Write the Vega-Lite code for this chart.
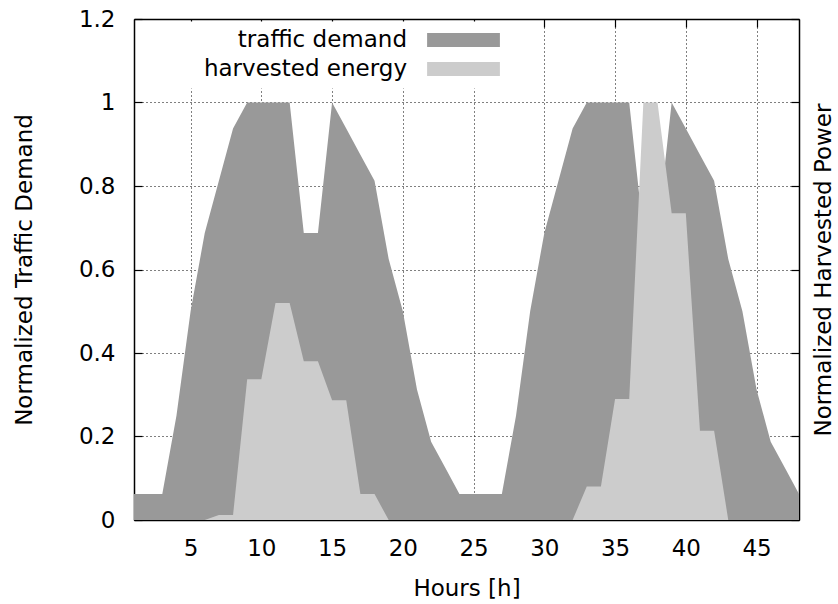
{
  "$schema": "https://vega.github.io/schema/vega-lite/v6.json",
  "width": 665,
  "height": 501,
  "autosize": "none",
  "padding": {"left": 134, "top": 19, "right": 39, "bottom": 84},
  "background": "white",
  "config": {
    "font": "DejaVu Sans",
    "view": {"stroke": null},
    "axis": {
      "domainColor": "black",
      "domainWidth": 1.5,
      "tickColor": "black",
      "tickWidth": 1.2,
      "tickSize": -8,
      "labelFont": "DejaVu Sans",
      "labelFontSize": 23,
      "labelColor": "black",
      "labelFlush": false,
      "labelOverlap": false,
      "titleFont": "DejaVu Sans",
      "titleFontSize": 23,
      "titleFontWeight": "normal",
      "titleColor": "black",
      "gridColor": "black",
      "gridDash": [1, 3],
      "gridWidth": 1,
      "gridOpacity": 1
    }
  },
  "data": {
    "values": [
      {"h": 1, "traffic": 0.0625, "harvested": 0},
      {"h": 2, "traffic": 0.0625, "harvested": 0},
      {"h": 3, "traffic": 0.0625, "harvested": 0},
      {"h": 4, "traffic": 0.25, "harvested": 0},
      {"h": 5, "traffic": 0.5, "harvested": 0},
      {"h": 6, "traffic": 0.6875, "harvested": 0},
      {"h": 7, "traffic": 0.8125, "harvested": 0.012},
      {"h": 8, "traffic": 0.9375, "harvested": 0.012},
      {"h": 9, "traffic": 1, "harvested": 0.337},
      {"h": 10, "traffic": 1, "harvested": 0.337},
      {"h": 11, "traffic": 1, "harvested": 0.52},
      {"h": 12, "traffic": 1, "harvested": 0.52},
      {"h": 13, "traffic": 0.6875, "harvested": 0.38},
      {"h": 14, "traffic": 0.6875, "harvested": 0.38},
      {"h": 15, "traffic": 1, "harvested": 0.287},
      {"h": 16, "traffic": 0.9375, "harvested": 0.287},
      {"h": 17, "traffic": 0.875, "harvested": 0.062},
      {"h": 18, "traffic": 0.8125, "harvested": 0.062},
      {"h": 19, "traffic": 0.625, "harvested": 0},
      {"h": 20, "traffic": 0.5, "harvested": 0},
      {"h": 21, "traffic": 0.3125, "harvested": 0},
      {"h": 22, "traffic": 0.1875, "harvested": 0},
      {"h": 23, "traffic": 0.125, "harvested": 0},
      {"h": 24, "traffic": 0.0625, "harvested": 0},
      {"h": 25, "traffic": 0.0625, "harvested": 0},
      {"h": 26, "traffic": 0.0625, "harvested": 0},
      {"h": 27, "traffic": 0.0625, "harvested": 0},
      {"h": 28, "traffic": 0.25, "harvested": 0},
      {"h": 29, "traffic": 0.5, "harvested": 0},
      {"h": 30, "traffic": 0.6875, "harvested": 0},
      {"h": 31, "traffic": 0.8125, "harvested": 0},
      {"h": 32, "traffic": 0.9375, "harvested": 0},
      {"h": 33, "traffic": 1, "harvested": 0.08},
      {"h": 34, "traffic": 1, "harvested": 0.08},
      {"h": 35, "traffic": 1, "harvested": 0.29},
      {"h": 36, "traffic": 1, "harvested": 0.29},
      {"h": 37, "traffic": 0.6875, "harvested": 1},
      {"h": 38, "traffic": 0.6875, "harvested": 1},
      {"h": 39, "traffic": 1, "harvested": 0.735},
      {"h": 40, "traffic": 0.9375, "harvested": 0.735},
      {"h": 41, "traffic": 0.875, "harvested": 0.214},
      {"h": 42, "traffic": 0.8125, "harvested": 0.214},
      {"h": 43, "traffic": 0.625, "harvested": 0},
      {"h": 44, "traffic": 0.5, "harvested": 0},
      {"h": 45, "traffic": 0.3125, "harvested": 0},
      {"h": 46, "traffic": 0.1875, "harvested": 0},
      {"h": 47, "traffic": 0.125, "harvested": 0},
      {"h": 48, "traffic": 0.0625, "harvested": 0}
    ]
  },
  "layer": [
    {
      "mark": {"type": "area", "interpolate": "linear"},
      "encoding": {
        "x": {
          "field": "h",
          "type": "quantitative",
          "scale": {"domain": [1, 48], "nice": false, "zero": false},
          "axis": {
            "orient": "bottom",
            "values": [5, 10, 15, 20, 25, 30, 35, 40, 45],
            "grid": true,
            "labelPadding": 36,
            "labelBaseline": "middle",
            "title": "Hours [h]",
            "titleX": 332.5,
            "titleY": 68,
            "titleAlign": "center",
            "titleBaseline": "middle"
          }
        },
        "y": {
          "field": "traffic",
          "type": "quantitative",
          "stack": null,
          "scale": {"domain": [0, 1.2], "nice": false},
          "axis": {
            "orient": "left",
            "values": [0, 0.2, 0.4, 0.6, 0.8, 1, 1.2],
            "format": "~g",
            "grid": true,
            "labelPadding": 27,
            "labelAlign": "right",
            "labelBaseline": "middle",
            "title": "Normalized Traffic Demand",
            "titleAngle": 270,
            "titleX": -110,
            "titleY": 250.5,
            "titleAlign": "center",
            "titleBaseline": "middle"
          }
        },
        "color": {
          "datum": "traffic demand",
          "type": "nominal",
          "scale": {"domain": ["traffic demand", "harvested energy"], "range": ["#999999", "#cccccc"]},
          "legend": {
            "orient": "none",
            "legendX": 46,
            "legendY": 2.5,
            "title": null,
            "padding": 7,
            "symbolType": "M-5.2,-1H5.2V1H-5.2Z",
            "symbolSize": 196,
            "symbolStrokeWidth": 0,
            "symbolOpacity": 1,
            "symbolOffset": 265,
            "labelAlign": "right",
            "labelBaseline": "middle",
            "labelOffset": -68,
            "labelLimit": 400,
            "labelFont": "DejaVu Sans",
            "labelFontSize": 23,
            "labelColor": "black",
            "rowPadding": 5,
            "fillColor": "white"
          }
        }
      }
    },
    {
      "mark": {"type": "area", "interpolate": "linear"},
      "encoding": {
        "x": {
          "field": "h",
          "type": "quantitative",
          "axis": {
            "orient": "top",
            "values": [5, 10, 15, 20, 25, 30, 35, 40, 45],
            "grid": false,
            "labels": false,
            "title": null
          }
        },
        "y": {
          "field": "harvested",
          "type": "quantitative",
          "stack": null,
          "axis": {
            "orient": "right",
            "values": [0, 0.2, 0.4, 0.6, 0.8, 1, 1.2],
            "grid": false,
            "labels": false,
            "title": "Normalized Harvested Power",
            "titleAngle": 270,
            "titleX": 24,
            "titleY": 250.5,
            "titleAlign": "center",
            "titleBaseline": "middle"
          }
        },
        "color": {"datum": "harvested energy", "type": "nominal"}
      }
    }
  ],
  "resolve": {"axis": {"x": "independent", "y": "independent"}}
}
